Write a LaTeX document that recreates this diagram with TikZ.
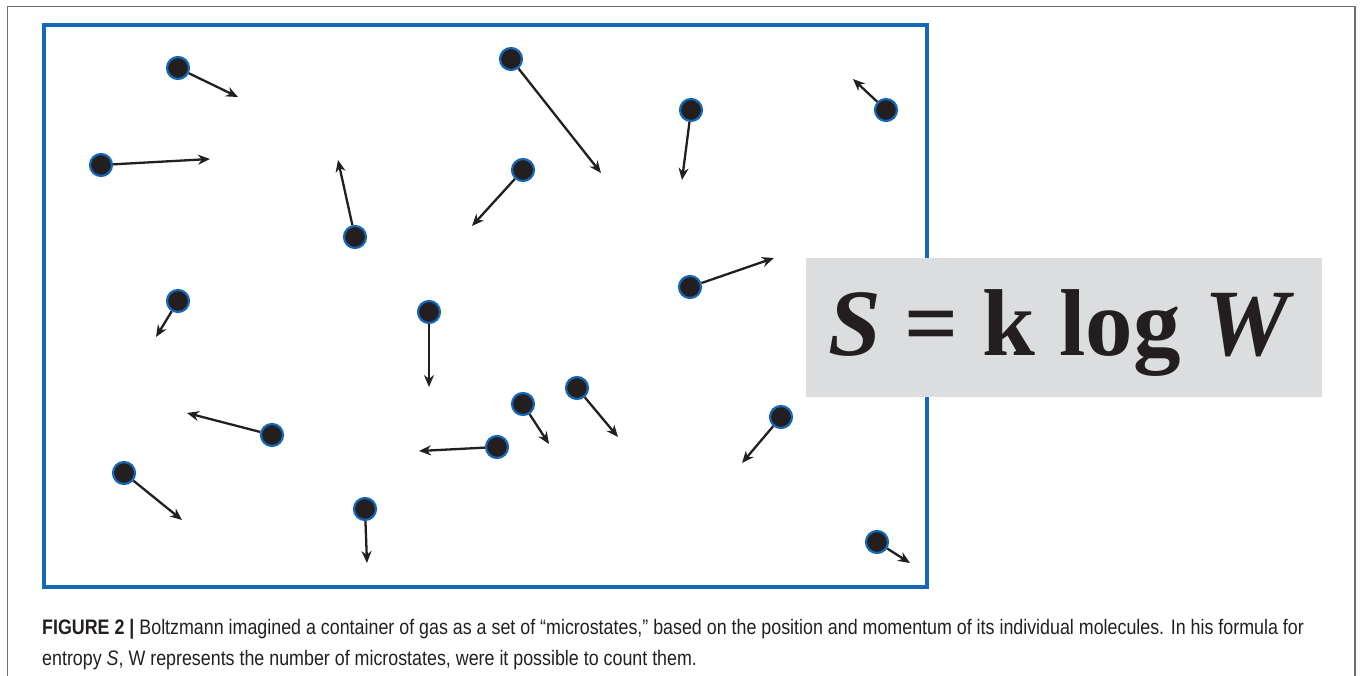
\documentclass[tikz,border=0pt]{standalone}
\usepackage{fontspec}
\usepackage{tikz}
\usetikzlibrary{arrows.meta}
\newfontfamily\capfont[FakeStretch=0.85]{Liberation Sans}
\newfontfamily\eqfont{Liberation Serif}
\definecolor{boxblue}{RGB}{21,103,184}
\definecolor{molfill}{RGB}{35,31,32}
\definecolor{eqgray}{RGB}{220,221,223}
\definecolor{framegray}{RGB}{110,110,110}
\tikzset{
  mol/.style={circle, fill=molfill, draw=boxblue, line width=2.2pt, minimum size=22pt, inner sep=0pt},
  vel/.style={-{Stealth[length=12pt,width=10pt]}, line width=2.3pt, color=molfill},
  captext/.style={anchor=base west, inner sep=0pt, text=molfill, font=\capfont\fontsize{21}{25}\selectfont}
}
\begin{document}
\begin{tikzpicture}[x=1pt,y=-1pt]
    \useasboundingbox (0,0) rectangle (1360,675);
    \fill[white] (0,0) rectangle (1360,675);
    % Frame and container
    \draw[framegray, line width=1.6pt] (7.5,676) -- (7.5,6.5) -- (1355,6.5) -- (1355,676);
    \draw[boxblue, line width=4.5pt] (44,25) rectangle (927,587);
    % Molecules
    \node[mol] (m1) at (178,68) {};
    \node[mol] (m2) at (511,59) {};
    \node[mol] (m3) at (691,110) {};
    \node[mol] (m4) at (886,110) {};
    \node[mol] (m5) at (101,165) {};
    \node[mol] (m6) at (523,170) {};
    \node[mol] (m7) at (355,237) {};
    \node[mol] (m8) at (690,287) {};
    \node[mol] (m9) at (178,301) {};
    \node[mol] (m10) at (429,312) {};
    \node[mol] (m11) at (577,388) {};
    \node[mol] (m12) at (523,404) {};
    \node[mol] (m13) at (781,417) {};
    \node[mol] (m14) at (272,435) {};
    \node[mol] (m15) at (497,447) {};
    \node[mol] (m16) at (124,473) {};
    \node[mol] (m17) at (365,509) {};
    \node[mol] (m18) at (877,542) {};
    % Arrow ends
    \coordinate (t1) at (238,97);
    \coordinate (t2) at (601,173);
    \coordinate (t3) at (682,180);
    \coordinate (t4) at (853,79);
    \coordinate (t5) at (210,159);
    \coordinate (t6) at (472,226);
    \coordinate (t7) at (338,160);
    \coordinate (t8) at (774,258);
    \coordinate (t9) at (156,337);
    \coordinate (t10) at (429,387);
    \coordinate (t11) at (618,437);
    \coordinate (t12) at (549,444);
    \coordinate (t13) at (742,463);
    \coordinate (t14) at (187,413);
    \coordinate (t15) at (419,451);
    \coordinate (t16) at (182,520);
    \coordinate (t17) at (367,563);
    \coordinate (t18) at (910,563);
    % Arrows
    \foreach \i in {1,...,18}
        \draw[vel] (m\i) -- (t\i);
    % Formula
    \node[fill=eqgray, minimum width=516pt, minimum height=139pt, inner sep=0pt] (eq) at (1064,327.5) {};
    \node[anchor=base west, inner sep=0pt, text=molfill, font=\eqfont\bfseries\fontsize{95}{95}\selectfont] (formula) at (828,355)
        {{\itshape S} = k log {\itshape W}};
    % Caption
    \node[captext] (cap1) at (42,634) {{\bfseries FIGURE 2 |} Boltzmann imagined a container of gas as a set of “microstates,” based on the position and momentum of its individual molecules. In his formula for};
    \node[captext] (cap2) at (42,665) {entropy {\itshape S}, W represents the number of microstates, were it possible to count them.};
\end{tikzpicture}
\end{document}
